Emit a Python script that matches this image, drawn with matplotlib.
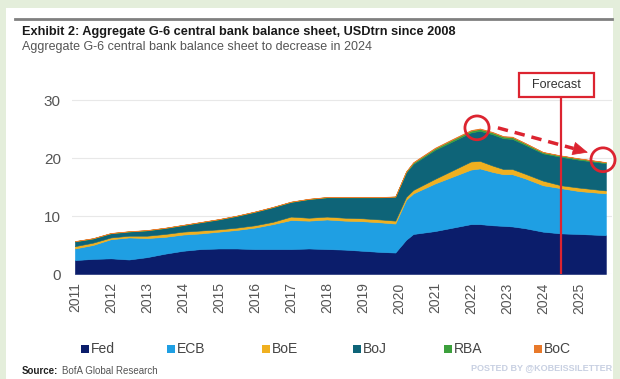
import numpy as np
import matplotlib.pyplot as plt
from matplotlib.patches import Rectangle, Ellipse
from matplotlib.lines import Line2D

plt.rcParams['font.family'] = ['Liberation Sans', 'DejaVu Sans']

# balance sheets by bank, USD trn
dates = [2011.0, 2011.5, 2012.0, 2012.5, 2013.0, 2013.5, 2014.0, 2014.5, 2015.0, 2015.5,
         2016.0, 2016.5, 2017.0, 2017.5, 2018.0, 2018.5, 2019.0, 2019.5, 2019.9, 2020.2,
         2020.4, 2021.0, 2021.5, 2022.0, 2022.25, 2022.6, 2022.9, 2023.15, 2023.5, 2024.0,
         2024.5, 2025.0, 2025.75]
fed = [2.4, 2.6, 2.7, 2.5, 2.9, 3.5, 4.0, 4.3, 4.4, 4.4,
       4.3, 4.3, 4.3, 4.4, 4.3, 4.2, 4.0, 3.8, 3.7, 5.9,
       6.9, 7.4, 8.0, 8.6, 8.6, 8.4, 8.3, 8.2, 7.9, 7.3,
       7.0, 6.9, 6.7]
ecb = [2.0, 2.4, 3.3, 3.8, 3.3, 2.9, 2.8, 2.7, 2.9, 3.2,
       3.7, 4.3, 5.0, 4.8, 5.1, 5.0, 5.1, 5.1, 5.0, 6.9,
       7.0, 8.2, 8.8, 9.4, 9.6, 9.2, 8.9, 9.0, 8.6, 8.0,
       7.8, 7.4, 7.2]
boe = [0.4, 0.4, 0.3, 0.3, 0.4, 0.5, 0.5, 0.5, 0.4, 0.4,
       0.4, 0.4, 0.6, 0.5, 0.5, 0.5, 0.5, 0.5, 0.5, 0.5,
       0.6, 0.8, 1.1, 1.4, 1.3, 1.1, 0.9, 0.9, 0.8, 0.8,
       0.5, 0.6, 0.5]
boj = [0.8, 0.7, 0.7, 0.7, 0.9, 1.0, 1.1, 1.4, 1.7, 2.0,
       2.3, 2.5, 2.5, 3.2, 3.3, 3.5, 3.6, 3.8, 4.1, 4.2,
       4.5, 5.0, 5.0, 5.0, 5.2, 5.4, 5.3, 5.2, 5.0, 4.7,
       4.9, 4.8, 4.7]
rba = [0.05, 0.05, 0.05, 0.05, 0.05, 0.05, 0.05, 0.05, 0.05, 0.05,
       0.05, 0.05, 0.05, 0.05, 0.05, 0.05, 0.05, 0.05, 0.05, 0.15,
       0.2, 0.25, 0.3, 0.3, 0.3, 0.3, 0.3, 0.3, 0.25, 0.2,
       0.2, 0.2, 0.15]
boc = [0.03, 0.03, 0.03, 0.03, 0.03, 0.03, 0.03, 0.03, 0.03, 0.03,
       0.03, 0.03, 0.03, 0.03, 0.03, 0.03, 0.03, 0.03, 0.03, 0.05,
       0.1, 0.12, 0.12, 0.12, 0.1, 0.1, 0.08, 0.08, 0.08, 0.06,
       0.05, 0.05, 0.05]

banks = ['Fed', 'ECB', 'BoE', 'BoJ', 'RBA', 'BoC']
colors = ['#0b1d6b', '#1f9fe3', '#f0b020', '#0e6478', '#3ca03c', '#e8792a']
years = list(range(2011, 2026))
red = '#dc2430'

fig = plt.figure(figsize=(6.2, 3.79), dpi=100, facecolor='#e4eedb')
# white panel behind everything
fig.patches.append(Rectangle((6/620, 0), 607/620, 1 - 8/379, transform=fig.transFigure,
                             facecolor='white', edgecolor='none', zorder=-5))
fig.add_artist(Line2D([15/620, 612/620], [1 - 19/379]*2, color='#808080', lw=2))

fig.text(22/620, 1 - 32/379, 'Exhibit 2: Aggregate G-6 central bank balance sheet, USDtrn since 2008',
         fontsize=9.2, fontweight='bold', color='#1a1a1a', va='center')
fig.text(22/620, 1 - 47/379, 'Aggregate G-6 central bank balance sheet to decrease in 2024',
         fontsize=9, color='#555555', va='center')

ax = fig.add_axes([72/620, 105/379, 540/620, 203/379])
ax.set_facecolor('none')
polys = ax.stackplot(dates, fed, ecb, boe, boj, rba, boc, colors=colors, lw=0, zorder=2)
for p, c in zip(polys, colors):
    p.set_edgecolor(c)
    p.set_linewidth(0.4)

ax.set_xlim(2010.92, 2025.92)
ax.set_ylim(0, 35)
ax.set_yticks([0, 10, 20, 30])
ax.set_xticks(years)
ax.set_xticklabels([str(y) for y in years], rotation=90)
ax.grid(axis='y', color='#e8e8e8', lw=0.8, zorder=0)
ax.set_axisbelow(True)
for s in ax.spines.values():
    s.set_visible(False)
ax.tick_params(axis='y', length=0, pad=8, labelsize=11, labelcolor='#555555')
ax.tick_params(axis='x', length=0, pad=6, labelsize=10, labelcolor='#555555')

# forecast marker
ax.plot([2024.5, 2024.5], [0, 30.5], color=red, lw=1.6, zorder=5)
ax.add_patch(Rectangle((2023.33, 30.5), 2.09, 4.15, facecolor='white', edgecolor=red,
                       lw=1.6, zorder=5, clip_on=False))
ax.text(2024.375, 32.6, 'Forecast', ha='center', va='center', fontsize=9, color='#333333', zorder=6)

# circles and dashed arrow
ax.add_patch(Ellipse((2022.17, 25.2), 0.67, 4.1, fill=False, edgecolor=red, lw=2, zorder=6, clip_on=False))
ax.add_patch(Ellipse((2025.67, 19.7), 0.67, 4.1, fill=False, edgecolor=red, lw=2, zorder=6, clip_on=False))
ax.plot([2022.75, 2024.85], [25.2, 21.65], color=red, lw=2.5, dashes=(3, 2), zorder=6)
ax.annotate('', xy=(2025.25, 20.95), xytext=(2024.8, 21.73),
            arrowprops=dict(arrowstyle='-|>,head_length=1.0,head_width=0.45', color=red, lw=0.5,
                            shrinkA=0, shrinkB=0), zorder=6)

# legend
leg_x = [81, 167, 262, 353, 444, 534]
for name, c, x in zip(banks, colors, leg_x):
    fig.patches.append(Rectangle((x/620, 1 - 353/379), 8/620, 8/379, transform=fig.transFigure,
                                 facecolor=c, edgecolor='none'))
    fig.text((x + 10)/620, 1 - 349/379, name, fontsize=10, color='#444444', va='center')

fig.text(22/620, 1 - 371/379, 'Source:', fontsize=7, fontweight='bold', color='#222222', va='center')
fig.text(62/620, 1 - 371/379, 'BofA Global Research', fontsize=7, color='#555555', va='center')
fig.text(612/620, 1 - 368/379, 'POSTED BY @KOBEISSILETTER', fontsize=6.5, fontweight='bold',
         color='#c8d0e2', ha='right', va='center')

plt.savefig('out.png', dpi=100, facecolor=fig.get_facecolor())
